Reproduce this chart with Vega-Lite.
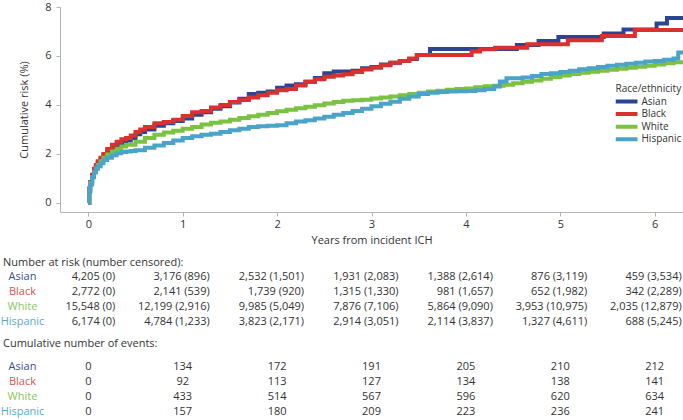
{
  "$schema": "https://vega.github.io/schema/vega-lite/v6.json",
  "padding": {"left": 0, "top": 1, "right": 0, "bottom": 0},
  "bounds": "flush",
  "spacing": 0,
  "config": {
    "font": "Open Sans",
    "view": {"stroke": null},
    "axis": {"labelFont": "Open Sans", "titleFont": "Open Sans", "labelFontSize": 11, "titleFontSize": 11, "titleFontWeight": "normal", "labelColor": "#333333", "titleColor": "#333333", "domainColor": "#b5b5b5", "tickColor": "#b5b5b5", "grid": false},
    "legend": {"labelFont": "Open Sans", "titleFont": "Open Sans"},
    "title": {"font": "Open Sans"}
  },
  "datasets": {
    "curves": [
      {"g":"Asian","t":0,"v":0},{"g":"Asian","t":0.01,"v":0.5},{"g":"Asian","t":0.02,"v":0.8},{"g":"Asian","t":0.04,"v":1.1},{"g":"Asian","t":0.06,"v":1.35},{"g":"Asian","t":0.08,"v":1.5},{"g":"Asian","t":0.1,"v":1.65},{"g":"Asian","t":0.13,"v":1.8},{"g":"Asian","t":0.16,"v":1.95},{"g":"Asian","t":0.2,"v":2.1},{"g":"Asian","t":0.25,"v":2.25},{"g":"Asian","t":0.3,"v":2.38},{"g":"Asian","t":0.35,"v":2.45},{"g":"Asian","t":0.4,"v":2.55},{"g":"Asian","t":0.45,"v":2.65},{"g":"Asian","t":0.5,"v":2.8},{"g":"Asian","t":0.55,"v":2.9},{"g":"Asian","t":0.6,"v":3.0},{"g":"Asian","t":0.7,"v":3.15},{"g":"Asian","t":0.8,"v":3.25},{"g":"Asian","t":0.9,"v":3.35},{"g":"Asian","t":1.0,"v":3.45},{"g":"Asian","t":1.1,"v":3.6},{"g":"Asian","t":1.2,"v":3.7},{"g":"Asian","t":1.3,"v":3.85},{"g":"Asian","t":1.4,"v":3.95},{"g":"Asian","t":1.5,"v":4.1},{"g":"Asian","t":1.6,"v":4.25},{"g":"Asian","t":1.7,"v":4.45},{"g":"Asian","t":1.8,"v":4.5},{"g":"Asian","t":1.9,"v":4.55},{"g":"Asian","t":2.0,"v":4.7},{"g":"Asian","t":2.1,"v":4.8},{"g":"Asian","t":2.2,"v":4.85},{"g":"Asian","t":2.3,"v":4.95},{"g":"Asian","t":2.4,"v":5.1},{"g":"Asian","t":2.5,"v":5.3},{"g":"Asian","t":2.6,"v":5.37},{"g":"Asian","t":2.8,"v":5.4},{"g":"Asian","t":2.9,"v":5.5},{"g":"Asian","t":3.0,"v":5.55},{"g":"Asian","t":3.1,"v":5.65},{"g":"Asian","t":3.2,"v":5.72},{"g":"Asian","t":3.3,"v":5.8},{"g":"Asian","t":3.4,"v":5.88},{"g":"Asian","t":3.48,"v":6.04},{"g":"Asian","t":3.62,"v":6.29},{"g":"Asian","t":4.54,"v":6.45},{"g":"Asian","t":4.77,"v":6.61},{"g":"Asian","t":4.98,"v":6.78},{"g":"Asian","t":5.46,"v":6.92},{"g":"Asian","t":5.67,"v":7.08},{"g":"Asian","t":6.02,"v":7.33},{"g":"Asian","t":6.13,"v":7.55},{"g":"Asian","t":6.3,"v":7.55},
      {"g":"Black","t":0,"v":0},{"g":"Black","t":0.01,"v":0.6},{"g":"Black","t":0.02,"v":0.85},{"g":"Black","t":0.04,"v":1.15},{"g":"Black","t":0.06,"v":1.4},{"g":"Black","t":0.08,"v":1.55},{"g":"Black","t":0.1,"v":1.7},{"g":"Black","t":0.13,"v":1.85},{"g":"Black","t":0.16,"v":2.0},{"g":"Black","t":0.2,"v":2.2},{"g":"Black","t":0.25,"v":2.38},{"g":"Black","t":0.3,"v":2.5},{"g":"Black","t":0.35,"v":2.6},{"g":"Black","t":0.4,"v":2.65},{"g":"Black","t":0.45,"v":2.75},{"g":"Black","t":0.5,"v":2.9},{"g":"Black","t":0.55,"v":3.0},{"g":"Black","t":0.6,"v":3.1},{"g":"Black","t":0.7,"v":3.25},{"g":"Black","t":0.8,"v":3.3},{"g":"Black","t":0.9,"v":3.4},{"g":"Black","t":1.0,"v":3.55},{"g":"Black","t":1.1,"v":3.7},{"g":"Black","t":1.2,"v":3.75},{"g":"Black","t":1.3,"v":3.9},{"g":"Black","t":1.4,"v":4.0},{"g":"Black","t":1.5,"v":4.12},{"g":"Black","t":1.6,"v":4.2},{"g":"Black","t":1.7,"v":4.3},{"g":"Black","t":1.8,"v":4.4},{"g":"Black","t":1.9,"v":4.5},{"g":"Black","t":2.0,"v":4.6},{"g":"Black","t":2.1,"v":4.65},{"g":"Black","t":2.2,"v":4.8},{"g":"Black","t":2.3,"v":4.95},{"g":"Black","t":2.4,"v":5.05},{"g":"Black","t":2.5,"v":5.15},{"g":"Black","t":2.6,"v":5.2},{"g":"Black","t":2.7,"v":5.25},{"g":"Black","t":2.8,"v":5.35},{"g":"Black","t":2.9,"v":5.45},{"g":"Black","t":3.0,"v":5.52},{"g":"Black","t":3.1,"v":5.62},{"g":"Black","t":3.2,"v":5.72},{"g":"Black","t":3.3,"v":5.8},{"g":"Black","t":3.4,"v":5.9},{"g":"Black","t":3.48,"v":6.04},{"g":"Black","t":4.06,"v":6.18},{"g":"Black","t":4.15,"v":6.27},{"g":"Black","t":4.31,"v":6.34},{"g":"Black","t":4.65,"v":6.48},{"g":"Black","t":5.08,"v":6.64},{"g":"Black","t":5.44,"v":6.82},{"g":"Black","t":5.79,"v":7.06},{"g":"Black","t":6.3,"v":7.06},
      {"g":"White","t":0,"v":0},{"g":"White","t":0.01,"v":0.5},{"g":"White","t":0.02,"v":0.8},{"g":"White","t":0.04,"v":1.05},{"g":"White","t":0.06,"v":1.25},{"g":"White","t":0.08,"v":1.4},{"g":"White","t":0.1,"v":1.55},{"g":"White","t":0.13,"v":1.7},{"g":"White","t":0.16,"v":1.85},{"g":"White","t":0.2,"v":1.98},{"g":"White","t":0.25,"v":2.1},{"g":"White","t":0.3,"v":2.2},{"g":"White","t":0.35,"v":2.3},{"g":"White","t":0.4,"v":2.38},{"g":"White","t":0.5,"v":2.5},{"g":"White","t":0.6,"v":2.65},{"g":"White","t":0.7,"v":2.78},{"g":"White","t":0.8,"v":2.88},{"g":"White","t":0.9,"v":2.95},{"g":"White","t":1.0,"v":3.03},{"g":"White","t":1.1,"v":3.1},{"g":"White","t":1.2,"v":3.2},{"g":"White","t":1.3,"v":3.27},{"g":"White","t":1.4,"v":3.33},{"g":"White","t":1.5,"v":3.4},{"g":"White","t":1.6,"v":3.47},{"g":"White","t":1.7,"v":3.54},{"g":"White","t":1.8,"v":3.6},{"g":"White","t":1.9,"v":3.67},{"g":"White","t":2.0,"v":3.74},{"g":"White","t":2.1,"v":3.8},{"g":"White","t":2.2,"v":3.87},{"g":"White","t":2.3,"v":3.93},{"g":"White","t":2.4,"v":3.99},{"g":"White","t":2.5,"v":4.06},{"g":"White","t":2.6,"v":4.12},{"g":"White","t":2.7,"v":4.17},{"g":"White","t":2.8,"v":4.19},{"g":"White","t":2.9,"v":4.21},{"g":"White","t":3.0,"v":4.26},{"g":"White","t":3.1,"v":4.3},{"g":"White","t":3.2,"v":4.35},{"g":"White","t":3.3,"v":4.4},{"g":"White","t":3.4,"v":4.45},{"g":"White","t":3.5,"v":4.5},{"g":"White","t":3.6,"v":4.55},{"g":"White","t":3.7,"v":4.58},{"g":"White","t":3.8,"v":4.62},{"g":"White","t":3.9,"v":4.65},{"g":"White","t":4.0,"v":4.67},{"g":"White","t":4.1,"v":4.72},{"g":"White","t":4.2,"v":4.76},{"g":"White","t":4.3,"v":4.78},{"g":"White","t":4.4,"v":4.83},{"g":"White","t":4.5,"v":4.89},{"g":"White","t":4.6,"v":4.95},{"g":"White","t":4.7,"v":5.0},{"g":"White","t":4.8,"v":5.07},{"g":"White","t":4.9,"v":5.14},{"g":"White","t":5.0,"v":5.2},{"g":"White","t":5.1,"v":5.26},{"g":"White","t":5.2,"v":5.32},{"g":"White","t":5.3,"v":5.36},{"g":"White","t":5.4,"v":5.4},{"g":"White","t":5.5,"v":5.44},{"g":"White","t":5.6,"v":5.48},{"g":"White","t":5.7,"v":5.52},{"g":"White","t":5.8,"v":5.56},{"g":"White","t":5.9,"v":5.6},{"g":"White","t":6.0,"v":5.65},{"g":"White","t":6.1,"v":5.7},{"g":"White","t":6.2,"v":5.74},{"g":"White","t":6.3,"v":5.78},
      {"g":"Hispanic","t":0,"v":0},{"g":"Hispanic","t":0.01,"v":0.45},{"g":"Hispanic","t":0.02,"v":0.75},{"g":"Hispanic","t":0.04,"v":1.05},{"g":"Hispanic","t":0.06,"v":1.25},{"g":"Hispanic","t":0.08,"v":1.4},{"g":"Hispanic","t":0.1,"v":1.5},{"g":"Hispanic","t":0.13,"v":1.62},{"g":"Hispanic","t":0.16,"v":1.75},{"g":"Hispanic","t":0.2,"v":1.85},{"g":"Hispanic","t":0.25,"v":1.95},{"g":"Hispanic","t":0.3,"v":2.03},{"g":"Hispanic","t":0.35,"v":2.08},{"g":"Hispanic","t":0.4,"v":2.1},{"g":"Hispanic","t":0.45,"v":2.12},{"g":"Hispanic","t":0.5,"v":2.15},{"g":"Hispanic","t":0.6,"v":2.25},{"g":"Hispanic","t":0.7,"v":2.35},{"g":"Hispanic","t":0.8,"v":2.45},{"g":"Hispanic","t":0.9,"v":2.55},{"g":"Hispanic","t":1.0,"v":2.65},{"g":"Hispanic","t":1.1,"v":2.72},{"g":"Hispanic","t":1.2,"v":2.78},{"g":"Hispanic","t":1.3,"v":2.83},{"g":"Hispanic","t":1.4,"v":2.9},{"g":"Hispanic","t":1.5,"v":2.97},{"g":"Hispanic","t":1.6,"v":3.03},{"g":"Hispanic","t":1.7,"v":3.1},{"g":"Hispanic","t":1.8,"v":3.13},{"g":"Hispanic","t":1.9,"v":3.15},{"g":"Hispanic","t":2.0,"v":3.17},{"g":"Hispanic","t":2.1,"v":3.25},{"g":"Hispanic","t":2.2,"v":3.32},{"g":"Hispanic","t":2.3,"v":3.38},{"g":"Hispanic","t":2.4,"v":3.45},{"g":"Hispanic","t":2.5,"v":3.52},{"g":"Hispanic","t":2.6,"v":3.6},{"g":"Hispanic","t":2.7,"v":3.67},{"g":"Hispanic","t":2.8,"v":3.75},{"g":"Hispanic","t":2.9,"v":3.85},{"g":"Hispanic","t":3.0,"v":3.95},{"g":"Hispanic","t":3.1,"v":4.05},{"g":"Hispanic","t":3.2,"v":4.13},{"g":"Hispanic","t":3.3,"v":4.25},{"g":"Hispanic","t":3.4,"v":4.35},{"g":"Hispanic","t":3.5,"v":4.45},{"g":"Hispanic","t":3.6,"v":4.5},{"g":"Hispanic","t":3.7,"v":4.53},{"g":"Hispanic","t":3.8,"v":4.55},{"g":"Hispanic","t":3.9,"v":4.56},{"g":"Hispanic","t":4.0,"v":4.57},{"g":"Hispanic","t":4.1,"v":4.6},{"g":"Hispanic","t":4.2,"v":4.65},{"g":"Hispanic","t":4.3,"v":4.75},{"g":"Hispanic","t":4.36,"v":4.96},{"g":"Hispanic","t":4.43,"v":5.09},{"g":"Hispanic","t":4.6,"v":5.12},{"g":"Hispanic","t":4.7,"v":5.18},{"g":"Hispanic","t":4.8,"v":5.26},{"g":"Hispanic","t":4.9,"v":5.3},{"g":"Hispanic","t":5.0,"v":5.35},{"g":"Hispanic","t":5.1,"v":5.4},{"g":"Hispanic","t":5.2,"v":5.46},{"g":"Hispanic","t":5.3,"v":5.5},{"g":"Hispanic","t":5.4,"v":5.55},{"g":"Hispanic","t":5.5,"v":5.6},{"g":"Hispanic","t":5.6,"v":5.64},{"g":"Hispanic","t":5.7,"v":5.68},{"g":"Hispanic","t":5.8,"v":5.72},{"g":"Hispanic","t":5.9,"v":5.77},{"g":"Hispanic","t":6.0,"v":5.8},{"g":"Hispanic","t":6.1,"v":5.85},{"g":"Hispanic","t":6.2,"v":5.9},{"g":"Hispanic","t":6.25,"v":6.14},{"g":"Hispanic","t":6.3,"v":6.14}
    ],
    "risk": [
      {"g":"Asian","t":0,"s":"4,205 (0)"},{"g":"Asian","t":1,"s":"3,176 (896)"},{"g":"Asian","t":2,"s":"2,532 (1,501)"},{"g":"Asian","t":3,"s":"1,931 (2,083)"},{"g":"Asian","t":4,"s":"1,388 (2,614)"},{"g":"Asian","t":5,"s":"876 (3,119)"},{"g":"Asian","t":6,"s":"459 (3,534)"},
      {"g":"Black","t":0,"s":"2,772 (0)"},{"g":"Black","t":1,"s":"2,141 (539)"},{"g":"Black","t":2,"s":"1,739 (920)"},{"g":"Black","t":3,"s":"1,315 (1,330)"},{"g":"Black","t":4,"s":"981 (1,657)"},{"g":"Black","t":5,"s":"652 (1,982)"},{"g":"Black","t":6,"s":"342 (2,289)"},
      {"g":"White","t":0,"s":"15,548 (0)"},{"g":"White","t":1,"s":"12,199 (2,916)"},{"g":"White","t":2,"s":"9,985 (5,049)"},{"g":"White","t":3,"s":"7,876 (7,106)"},{"g":"White","t":4,"s":"5,864 (9,090)"},{"g":"White","t":5,"s":"3,953 (10,975)"},{"g":"White","t":6,"s":"2,035 (12,879)"},
      {"g":"Hispanic","t":0,"s":"6,174 (0)"},{"g":"Hispanic","t":1,"s":"4,784 (1,233)"},{"g":"Hispanic","t":2,"s":"3,823 (2,171)"},{"g":"Hispanic","t":3,"s":"2,914 (3,051)"},{"g":"Hispanic","t":4,"s":"2,114 (3,837)"},{"g":"Hispanic","t":5,"s":"1,327 (4,611)"},{"g":"Hispanic","t":6,"s":"688 (5,245)"}
    ],
    "events": [
      {"g":"Asian","t":0,"n":0},{"g":"Asian","t":1,"n":134},{"g":"Asian","t":2,"n":172},{"g":"Asian","t":3,"n":191},{"g":"Asian","t":4,"n":205},{"g":"Asian","t":5,"n":210},{"g":"Asian","t":6,"n":212},
      {"g":"Black","t":0,"n":0},{"g":"Black","t":1,"n":92},{"g":"Black","t":2,"n":113},{"g":"Black","t":3,"n":127},{"g":"Black","t":4,"n":134},{"g":"Black","t":5,"n":138},{"g":"Black","t":6,"n":141},
      {"g":"White","t":0,"n":0},{"g":"White","t":1,"n":433},{"g":"White","t":2,"n":514},{"g":"White","t":3,"n":567},{"g":"White","t":4,"n":596},{"g":"White","t":5,"n":620},{"g":"White","t":6,"n":634},
      {"g":"Hispanic","t":0,"n":0},{"g":"Hispanic","t":1,"n":157},{"g":"Hispanic","t":2,"n":180},{"g":"Hispanic","t":3,"n":209},{"g":"Hispanic","t":4,"n":223},{"g":"Hispanic","t":5,"n":236},{"g":"Hispanic","t":6,"n":241}
    ]
  },
  "resolve": {"scale": {"color": "independent", "x": "independent", "y": "independent"}, "legend": {"color": "independent"}},
  "vconcat": [
    {
      "width": 623,
      "height": 205,
      "data": {"name": "curves"},
      "mark": {"type": "line", "interpolate": "step-after", "strokeWidth": 4},
      "encoding": {
        "x": {"field": "t", "type": "quantitative", "scale": {"domain": [-0.3, 6.3], "nice": false, "zero": false},
              "axis": {"values": [0,1,2,3,4,5,6], "title": "Years from incident ICH", "tickSize": 4, "labelPadding": 2, "titlePadding": 5}},
        "y": {"field": "v", "type": "quantitative", "scale": {"domain": [-0.37, 8], "nice": false, "zero": false},
              "axis": {"values": [0,2,4,6,8], "title": "Cumulative risk (%)", "tickSize": 4, "labelPadding": 5, "titlePadding": 15}},
        "color": {"field": "g", "type": "nominal",
                  "scale": {"domain": ["Asian","Black","White","Hispanic"], "range": ["#2c4592","#d93030","#7cc242","#4aa3c8"]},
                  "legend": {"title": "Race/ethnicity", "orient": "none", "legendX": 555.5, "legendY": 76.5, "symbolType": "M-1.667,0H5.667", "symbolSize": 36, "symbolStrokeWidth": 4, "labelOffset": 16, "labelFontSize": 10, "titleFontSize": 10, "titleFontWeight": "normal", "labelColor": "#333333", "titleColor": "#333333", "titlePadding": 3, "rowPadding": 2.6, "clipHeight": 10, "padding": 0}}
      }
    },
    {
      "width": 623,
      "height": 115.8,
      "data": {"name": "risk"},
      "title": {"text": "Number at risk (number censored):", "anchor": "start", "frame": "group", "dx": -57, "offset": -62, "baseline": "middle", "fontSize": 11, "fontWeight": "normal", "color": "#333333"},
      "mark": {"type": "text", "align": "right", "dx": 27, "fontSize": 11, "color": "#333333"},
      "encoding": {
        "x": {"field": "t", "type": "quantitative", "scale": {"domain": [-0.3, 6.3], "nice": false, "zero": false}, "axis": null},
        "y": {"field": "g", "type": "nominal", "sort": ["Asian","Black","White","Hispanic"],
              "scale": {"type": "point", "domain": ["Asian","Black","White","Hispanic"], "range": [57.3, 117.3], "padding": 0.5},
              "axis": {"title": null, "domain": false, "ticks": false, "labelAlign": "center", "labelPadding": 38, "labelFontSize": 11,
                       "labelColor": {"condition": [{"test": "datum.value === 'Asian'", "value": "#3b4f8a"}, {"test": "datum.value === 'Black'", "value": "#d9534f"}, {"test": "datum.value === 'White'", "value": "#8cc65a"}], "value": "#5aa9c9"}}},
        "text": {"field": "s", "type": "nominal"}
      }
    },
    {
      "width": 623,
      "height": 92.7,
      "data": {"name": "events"},
      "title": {"text": "Cumulative number of events:", "anchor": "start", "frame": "group", "dx": -57, "offset": -27.2, "baseline": "middle", "fontSize": 11, "fontWeight": "normal", "color": "#333333"},
      "mark": {"type": "text", "align": "center", "fontSize": 11, "color": "#333333"},
      "encoding": {
        "x": {"field": "t", "type": "quantitative", "scale": {"domain": [-0.3, 6.3], "nice": false, "zero": false}, "axis": null},
        "y": {"field": "g", "type": "nominal", "sort": ["Asian","Black","White","Hispanic"],
              "scale": {"type": "point", "domain": ["Asian","Black","White","Hispanic"], "range": [31.2, 91.2], "padding": 0.5},
              "axis": {"title": null, "domain": false, "ticks": false, "labelAlign": "center", "labelPadding": 38, "labelFontSize": 11,
                       "labelColor": {"condition": [{"test": "datum.value === 'Asian'", "value": "#3b4f8a"}, {"test": "datum.value === 'Black'", "value": "#d9534f"}, {"test": "datum.value === 'White'", "value": "#8cc65a"}], "value": "#5aa9c9"}}},
        "text": {"field": "n", "type": "quantitative"}
      }
    }
  ]
}
